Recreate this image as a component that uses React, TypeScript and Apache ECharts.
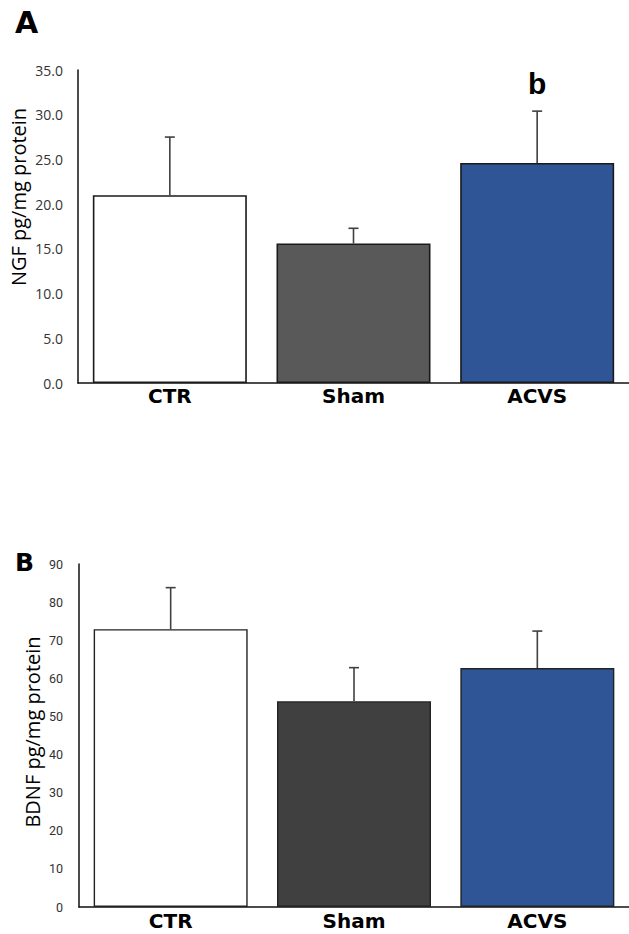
import React, { useEffect, useRef } from "react";
import * as echarts from "echarts";

const categories = ["CTR", "Sham", "ACVS"];
const ngfMean = [21.0, 15.6, 24.6];
const ngfSem = [6.5, 1.7, 5.8];
const ngfSig = ["", "", "b"];
const bdnfMean = [72.9, 54.0, 62.7];
const bdnfSem = [10.9, 8.8, 9.7];
const bdnfSig = ["", "", ""];
const ngfColors = ["#ffffff", "#595959", "#2f5597"];
const bdnfColors = ["#ffffff", "#404040", "#2f5597"];

function errorData(mean: number[], sem: number[], sig: string[]) {
  return mean.map((m, i) => [i, m + sem[i], m, sig[i]]);
}

function renderErr(params: any, api: any) {
  const x = api.value(0);
  const hi = api.value(1);
  const mean = api.value(2);
  const sig = api.value(3);
  const top = api.coord([x, hi]);
  const base = api.coord([x, mean]);
  const half = 5;
  const st = { stroke: "#404040", lineWidth: 1.6 };
  const children: any[] = [
    { type: "line", shape: { x1: top[0], y1: top[1], x2: base[0], y2: base[1] }, style: st },
    { type: "line", shape: { x1: top[0] - half, y1: top[1], x2: top[0] + half, y2: top[1] }, style: st },
  ];
  if (sig) {
    children.push({
      type: "text",
      style: {
        text: String(sig),
        x: top[0],
        y: top[1] - 13,
        align: "center",
        verticalAlign: "bottom",
        fontFamily: "Liberation Sans",
        fontWeight: "bold",
        fontSize: 30,
        fill: "#000",
      },
    });
  }
  return { type: "group", children };
}

export default function App() {
  const ref = useRef<HTMLDivElement>(null);
  useEffect(() => {
    if (!ref.current) return;
    const chart = echarts.init(ref.current, undefined, { renderer: "svg" });
    const axisLineStyle = { color: "#111", width: 1.5 };
    const xAxisCommon = (gridIndex: number, margin: number, lineHeight?: number) => ({
      type: "category",
      gridIndex,
      data: categories,
      axisLine: { lineStyle: axisLineStyle },
      axisTick: { show: false },
      axisLabel: {
        margin,
        lineHeight,
        fontFamily: "DejaVu Sans",
        fontWeight: "bold",
        fontSize: 20,
        color: "#000",
      },
    });
    chart.setOption({
      animation: false,
      grid: [
        { left: 78, top: 70, width: 551, height: 313 },
        { left: 79, top: 564, width: 550, height: 343 },
      ],
      xAxis: [xAxisCommon(0, 3), xAxisCommon(1, 4, 20)],
      yAxis: [
        {
          type: "value",
          gridIndex: 0,
          min: 0,
          max: 35,
          interval: 5,
          axisLine: { show: true, lineStyle: axisLineStyle },
          axisTick: { show: false },
          splitLine: { show: false },
          axisLabel: {
            margin: 15,
            fontFamily: "Open Sans",
            fontSize: 14,
            color: "#333",
            formatter: (v: number) => v.toFixed(1),
          },
        },
        {
          type: "value",
          gridIndex: 1,
          min: 0,
          max: 90,
          interval: 10,
          axisLine: { show: true, lineStyle: axisLineStyle },
          axisTick: { show: false },
          splitLine: { show: false },
          axisLabel: {
            margin: 16,
            fontFamily: "Roboto",
            fontSize: 12.5,
            color: "#333",
          },
        },
      ],
      series: [
        {
          type: "bar",
          xAxisIndex: 0,
          yAxisIndex: 0,
          barWidth: 154,
          data: ngfMean.map((v, i) => ({
            value: v,
            itemStyle: { color: ngfColors[i], borderColor: "#1a1a1a", borderWidth: 1.6 },
          })),
        },
        {
          type: "custom",
          xAxisIndex: 0,
          yAxisIndex: 0,
          renderItem: renderErr,
          data: errorData(ngfMean, ngfSem, ngfSig),
          z: 5,
        },
        {
          type: "bar",
          xAxisIndex: 1,
          yAxisIndex: 1,
          barWidth: 154,
          data: bdnfMean.map((v, i) => ({
            value: v,
            itemStyle: { color: bdnfColors[i], borderColor: "#222", borderWidth: 1.4 },
          })),
        },
        {
          type: "custom",
          xAxisIndex: 1,
          yAxisIndex: 1,
          renderItem: renderErr,
          data: errorData(bdnfMean, bdnfSem, bdnfSig),
          z: 5,
        },
      ],
      graphic: [
        {
          type: "text",
          left: 15,
          top: 7,
          style: { text: "A", fontFamily: "DejaVu Sans", fontWeight: "bold", fontSize: 30, fill: "#000" },
        },
        {
          type: "text",
          left: 15,
          top: 550,
          style: { text: "B", fontFamily: "DejaVu Sans", fontWeight: "bold", fontSize: 25, fill: "#000" },
        },
        {
          type: "text",
          x: 18,
          y: 197,
          rotation: Math.PI / 2,
          style: {
            text: "NGF pg/mg protein",
            align: "center",
            verticalAlign: "middle",
            fontFamily: "Open Sans",
            fontSize: 20,
            fill: "#000",
          },
        },
        {
          type: "text",
          x: 32,
          y: 732,
          rotation: Math.PI / 2,
          style: {
            text: "BDNF pg/mg protein",
            align: "center",
            verticalAlign: "middle",
            fontFamily: "Open Sans",
            fontSize: 20,
            fill: "#000",
          },
        },
      ],
    });
    return () => chart.dispose();
  }, []);
  return (
    <div
      ref={ref}
      style={{ position: "absolute", left: 0, top: 0, width: 629, height: 934, background: "#fff" }}
    />
  );
}
